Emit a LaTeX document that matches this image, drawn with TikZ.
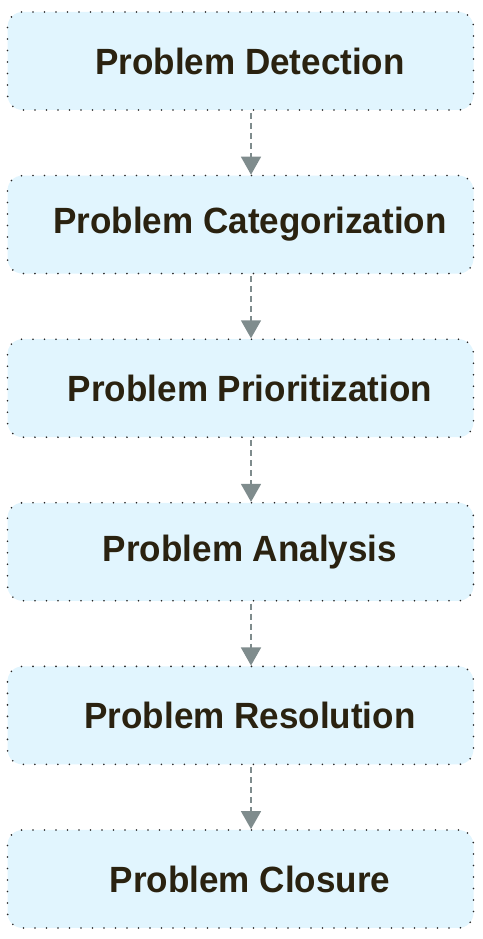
\documentclass[tikz,border=0pt]{standalone}
\usepackage{fontspec}
\setmainfont{Liberation Sans}[FakeStretch=0.96]
\usetikzlibrary{arrows.meta}
\definecolor{boxfill}{HTML}{E1F5FE}
\definecolor{txtcol}{HTML}{2A2210}
\definecolor{arrcol}{HTML}{7F8C8D}
\tikzset{
	stagebox/.style={draw=black!85,fill=boxfill,rounded corners=15pt,line width=1.8pt,
		dash pattern=on 0pt off 11.5pt,line cap=round,minimum width=466pt,minimum height=98pt,
		inner sep=0pt,text=txtcol,font=\fontsize{36.5}{40}\selectfont\bfseries,
		execute at begin node={\hspace*{19pt}}},
	flowarrow/.style={arrcol,line width=1.5pt,dash pattern=on 6pt off 4pt,
		-{Triangle[width=20pt,length=18pt]}}
}
\begin{document}
\begin{tikzpicture}[x=1pt,y=1pt]
	\useasboundingbox (0,0) rectangle (482,939);
	\foreach \name/\txt [count=\i] in {detect/Detection,categ/Categorization,prior/Prioritization,%
		analy/Analysis,resol/Resolution,closu/Closure}
		\node[stagebox] (\name) at (240.5,{878-163.6*(\i-1)}) {Problem \txt};
	\foreach \a/\b in {detect/categ,categ/prior,prior/analy,analy/resol,resol/closu}
		\draw[flowarrow] ([xshift=10.5pt,yshift=-2pt]\a.south)--([xshift=10.5pt]\b.north);
\end{tikzpicture}
\end{document}
